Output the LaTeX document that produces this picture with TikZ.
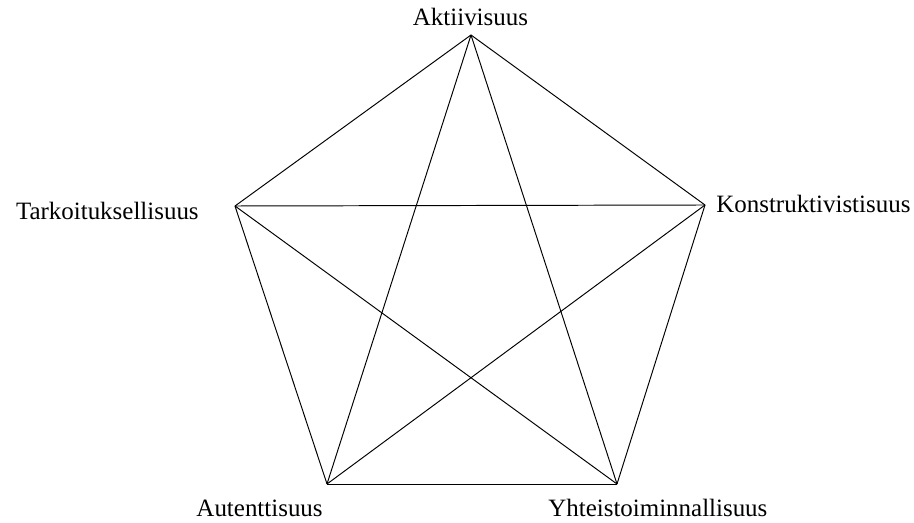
\documentclass[tikz,border=0pt]{standalone}
\usepackage{fontspec}
\setmainfont{Liberation Serif}
\usetikzlibrary{positioning}
\tikzset{
  plabel/.style={font=\fontsize{14.2}{17}\selectfont, text=black,
    inner sep=0pt, text depth=0pt},
  pline/.style={draw=black, line width=.55pt, line join=miter}
}
\begin{document}
\begin{tikzpicture}
\path[use as bounding box] (0,0) rectangle (18.28,-10.46);

% corners of the pentagon
\coordinate (akt) at (9.42,-.70);
\coordinate (tark) at (4.70,-4.12);
\coordinate (kons) at (14.10,-4.10);
\coordinate (aut) at (6.54,-9.68);
\coordinate (yht) at (12.34,-9.68);

\node[plabel, anchor=base] (aktl) at (9.41,-.52) {Aktiivisuus};
\node[plabel, anchor=base east] (tarkl) at (3.98,-4.40) {Tarkoituksellisuus};
\node[plabel, anchor=base west] (konsl) at (14.32,-4.26) {Konstruktivistisuus};
\node[plabel, anchor=base east] (autl) at (6.46,-10.32) {Autenttisuus};
\node[plabel, anchor=base west] (yhtl) at (10.96,-10.32) {Yhteistoiminnallisuus};

% sides
\draw[pline] (akt) -- (kons);
\draw[pline] (kons) -- (yht);
\draw[pline] (yht) -- (aut);
\draw[pline] (aut) -- (tark);
\draw[pline] (tark) -- (akt);
% diagonals
\draw[pline] (akt) -- (aut);
\draw[pline] (akt) -- (yht);
\draw[pline] (tark) -- (kons);
\draw[pline] (tark) -- (yht);
\draw[pline] (kons) -- (aut);
\end{tikzpicture}
\end{document}
